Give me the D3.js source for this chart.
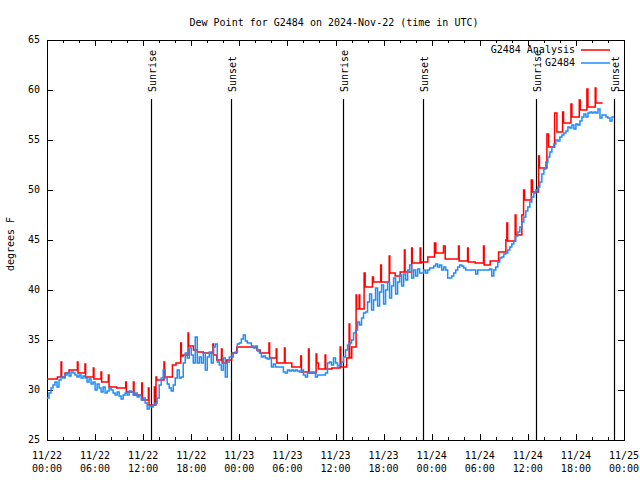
<!DOCTYPE html>
<html><head><meta charset="utf-8">
<script src="https://cdn.jsdelivr.net/npm/d3@7"></script>
<style>
body{margin:0;background:#fff}
svg{display:block}
text{font-family:"DejaVu Sans Mono",monospace;font-size:10px;fill:#000}
</style>
</head><body>
<svg id="c" width="640" height="480"></svg>
<script>
// ---------------- data ----------------
const chartTitle = "Dew Point for G2484 on 2024-Nov-22 (time in UTC)";
const yAxisLabel = "degrees F";
const yTicks = [25, 30, 35, 40, 45, 50, 55, 60, 65];
const xTickHours = [0, 6, 12, 18, 24, 30, 36, 42, 48, 54, 60, 66, 72]; // hours after 2024-11-22 00:00 UTC
const xMinorHours = [2, 4, 8, 10, 14, 16, 20, 22, 26, 28, 32, 34, 38, 40, 44, 46, 50, 52, 56, 58, 62, 64, 68, 70];
const seriesNames = ["G2484 Analysis", "G2484"];
const seriesColors = ["#ff0000", "#1e8cff"];

// Analysis (red) – step values, hours after start
const redHours = [0, 1.3, 1.75, 1.83, 2.25, 2.75, 3.79, 3.87, 4.74, 4.82, 5.78, 5.86, 6.74, 6.82, 7.66, 7.74, 8.7,
  9.82, 9.9, 10.78, 10.86, 11.82, 11.9, 12.65, 12.73, 13.4, 13.48, 13.6, 13.68, 14.6, 14.68, 15.65, 16.1,
  16.69, 16.77, 17.0, 17.6, 17.68, 18.27, 18.77, 19.5, 20.7, 20.78, 21.18, 21.77, 21.85, 22.43, 23.05, 23.68,
  26.2, 26.6, 27.7, 27.78, 28.6, 28.68, 29.63, 29.71, 30.55, 31.67, 31.75, 32.63, 32.71, 33.58, 33.66, 33.87,
  34.7, 34.78, 35.54, 36.58, 36.66, 37.4, 37.7, 37.78, 38.03, 38.57, 38.65, 38.95, 39.03, 39.57, 39.7,
  40.61, 40.74, 41.65, 41.73, 42.7, 42.78, 43.45, 44.07, 44.6, 44.68, 45.5, 45.58, 46.56, 46.64, 46.77,
  47.52, 48.35, 48.52, 49.48, 49.69, 51.35, 51.43, 52.48, 52.56, 53.43, 54.47, 54.55, 55.3, 56.35,
  57.26, 57.38, 57.48, 58.42, 58.52, 59.25, 59.47, 59.6, 60.43, 60.59, 61.34, 61.45, 62.38, 62.59,
  63.34, 63.63, 64.34, 64.46, 65.38, 65.5, 66.42, 66.54, 67.37, 67.5, 68.41, 68.5, 69.33];
const redValues = [31.1, 31.3, 32.8, 31.3, 31.7, 32.0, 32.8, 31.7, 32.6, 31.3, 32.2, 31.1, 31.8, 30.8, 31.5, 30.3, 30.2,
  30.8, 29.8, 30.8, 29.5, 30.7, 29.0, 30.2, 28.5, 30.3, 28.5, 31.3, 31.0, 32.8, 31.3, 32.5, 32.7,
  34.7, 33.4, 33.5, 35.7, 34.4, 34.0, 33.8, 33.7, 34.6, 33.5, 33.0, 34.1, 32.7, 33.0, 33.7, 34.3,
  34.0, 33.7, 34.7, 33.2, 34.1, 32.7, 34.2, 32.7, 32.3, 33.4, 31.8, 34.1, 31.7, 33.6, 32.7, 32.1,
  33.5, 32.1, 32.2, 34.3, 32.3, 33.2, 36.6, 33.2, 34.3, 39.5, 38.1, 39.5, 38.1, 41.7, 40.3,
  41.3, 40.8, 42.5, 40.8, 43.4, 41.7, 41.4, 41.8, 44.0, 41.8, 44.2, 42.7, 44.2, 42.7, 42.8,
  43.3, 44.7, 43.7, 44.4, 43.1, 44.4, 42.9, 44.2, 42.8, 42.7, 44.4, 42.5, 42.9, 43.8,
  45.0, 46.7, 44.9, 47.5, 45.5, 47.5, 50.0, 49.0, 51.0, 49.8, 53.4, 52.2, 55.6, 54.3,
  57.7, 55.8, 57.8, 56.7, 58.6, 57.3, 59.0, 58.0, 60.1, 58.3, 60.2, 58.7, 58.7];

// Observations (blue) – one reading every 15 minutes from 00:00
const blueStartHour = 0;
const blueStepHours = 0.25;
const blueValues = [
  29.2, 29.7, 30.2, 30.5, 30.8, 30.3, 31.0, 31.3, 31.2, 31.5, 31.7, 31.4, 31.8, 31.7, 31.5, 31.3, 31.5, 31.2, 31.4, 31.2,
  30.8, 31.1, 30.6, 30.8, 30.0, 30.6, 30.2, 29.8, 30.3, 29.7, 29.9, 30.2, 30.0, 29.7, 29.5, 29.8, 29.4, 29.1, 29.5, 29.7,
  29.5, 29.9, 29.8, 29.5, 29.7, 29.3, 29.5, 29.0, 29.2, 28.7, 28.1, 28.4, 28.3, 28.5, 28.7, 29.2, 30.5, 31.2, 32.0,
  31.2, 30.6, 30.2, 29.9, 30.5, 31.2, 32.0, 31.2, 31.3, 32.7, 33.7, 33.2, 34.2, 33.5, 32.7, 35.3, 32.7, 33.3, 32.7, 33.7,
  32.0, 33.3, 33.8, 32.7, 34.3, 34.6, 32.8, 32.5, 32.0, 33.2, 31.3, 32.8, 33.3, 33.3, 33.7, 33.8, 34.6, 34.7, 35.1, 35.5,
  34.9, 34.7, 34.7, 34.4, 34.2, 34.4, 33.9, 33.7, 33.3, 33.4, 33.2, 33.1, 33.2, 32.3, 32.6, 32.3, 32.3, 32.3, 32.3, 31.8,
  31.7, 32.0, 31.9,
  32.0, 31.9, 32.0, 31.9, 31.8, 32.0, 31.5, 31.3, 31.7, 31.8, 31.8, 31.8, 31.3, 31.5, 31.5, 31.5, 31.5, 31.7, 32.7, 32.8,
  32.5, 33.2, 32.7, 32.4, 32.5, 32.8, 33.3, 34.0, 34.5, 34.7, 35.0, 35.7, 36.0, 36.8, 36.5, 37.2, 37.7, 37.8, 38.8, 39.6,
  38.0, 39.0, 40.2, 38.4, 39.8, 40.5, 38.6, 40.0, 40.8, 39.2, 40.4, 41.2, 39.6, 40.8, 41.5, 40.4, 41.6, 41.0, 42.0, 42.5,
  41.2, 42.0, 41.4, 42.1, 41.7, 41.7, 42.0,
  41.7, 42.0, 42.2, 42.2, 42.4, 42.6, 42.3, 42.5, 42.0, 42.3, 42.0, 41.2, 41.2, 41.4, 41.7, 42.0, 42.3, 42.5, 42.4, 42.2,
  42.0, 42.0, 42.0, 42.0, 42.0, 41.6, 42.0, 42.0, 42.0, 42.0, 42.0, 42.0, 42.1, 41.4, 42.0, 42.3, 42.8, 43.2, 43.3, 43.6,
  43.7, 44.0, 44.3, 44.6, 44.9, 45.4, 45.8, 46.3, 46.8, 47.3, 47.9, 48.3, 48.8, 49.3, 49.7, 50.0,
  50.3, 50.8, 51.6, 52.1, 52.8, 53.3, 53.8, 54.3, 54.6, 55.0, 54.9, 55.3, 55.5, 55.7, 55.9, 56.3, 56.2, 56.5, 56.1, 56.6,
  56.5, 56.9, 57.3, 57.6, 57.3, 57.7, 57.8, 57.7, 57.8, 57.7, 58.1, 57.2, 57.5, 57.5, 57.3, 57.2, 56.9, 57.3, 57.3];

// Sunrise / sunset markers (hours after start)
const sunLabels = ["Sunrise", "Sunset", "Sunrise", "Sunset", "Sunrise", "Sunset"];
const sunHours = [12.98, 22.96, 36.97, 46.86, 60.98, 70.79];
const sunLineTop = 59.1;

// ---------------- drawing ----------------
(function () {
const startMs = Date.UTC(2024, 10, 22, 0, 0);
const toDate = h => new Date(startMs + h * 3600e3);

const pl = 47, pr = 624, pt = 40, pb = 440;
const svg = d3.select("#c");

const x = d3.scaleUtc().domain([toDate(0), toDate(72)]).range([pl, pr]);
const y = d3.scaleLinear().domain([25, 65]).range([pb, pt]);

svg.append("rect").attr("width", 640).attr("height", 480).attr("fill", "#fff");

svg.append("text").attr("x", 334).attr("y", 23).attr("text-anchor", "middle")
  .attr("dominant-baseline", "middle").text(chartTitle);

svg.append("text").attr("transform", "translate(11,244) rotate(-90)")
  .attr("text-anchor", "middle").attr("dominant-baseline", "middle").text(yAxisLabel);

const fmtDay = d3.utcFormat("%m/%d"), fmtHour = d3.utcFormat("%H:%M");
const xTickDates = xTickHours.map(toDate), xMinorDates = xMinorHours.map(toDate);

const gs = [];
gs.push(svg.append("g").attr("transform", `translate(0,${pb})`)
  .call(d3.axisTop(x).tickValues(xTickDates).tickSize(6).tickFormat("")));
gs.push(svg.append("g").attr("transform", `translate(0,${pb})`)
  .call(d3.axisTop(x).tickValues(xMinorDates).tickSize(3).tickFormat("")));
gs.push(svg.append("g").attr("transform", `translate(0,${pt})`)
  .call(d3.axisBottom(x).tickValues(xTickDates).tickSize(6).tickFormat("")));
gs.push(svg.append("g").attr("transform", `translate(0,${pt})`)
  .call(d3.axisBottom(x).tickValues(xMinorDates).tickSize(3).tickFormat("")));
gs.push(svg.append("g").attr("transform", `translate(${pl},0)`)
  .call(d3.axisRight(y).tickValues(yTicks).tickSize(6).tickFormat("")));
gs.push(svg.append("g").attr("transform", `translate(${pr},0)`)
  .call(d3.axisLeft(y).tickValues(yTicks).tickSize(6).tickFormat("")));
gs.forEach(g => {
  g.select(".domain").remove();
  g.selectAll("line").attr("stroke", "#000").attr("shape-rendering", "crispEdges");
});

const xl = svg.append("g");
xTickDates.forEach(d => {
  const t = xl.append("text").attr("x", x(d)).attr("text-anchor", "middle");
  t.append("tspan").attr("x", x(d)).attr("y", 459).text(fmtDay(d));
  t.append("tspan").attr("x", x(d)).attr("y", 472).text(fmtHour(d));
});
svg.append("g").selectAll("text").data(yTicks).join("text")
  .attr("x", 40).attr("y", d => y(d)).attr("text-anchor", "end")
  .attr("dominant-baseline", "middle").text(d => d);

svg.append("rect").attr("x", pl + 0.5).attr("y", pt + 0.5)
  .attr("width", pr - pl).attr("height", pb - pt)
  .attr("fill", "none").attr("stroke", "#000").attr("shape-rendering", "crispEdges");

sunHours.forEach((h, i) => {
  const xx = Math.round(x(toDate(h))) + 0.5;
  svg.append("line").attr("x1", xx).attr("x2", xx).attr("y1", y(sunLineTop)).attr("y2", pb)
    .attr("stroke", "#000").attr("stroke-width", 1.2);
  svg.append("text").attr("transform", `translate(${xx + 4},${y(sunLineTop) - 7}) rotate(-90)`)
    .attr("text-anchor", "start").text(sunLabels[i]);
});

const redData = redHours.map((h, i) => ({t: toDate(h), v: redValues[i]}));
const blueData = blueValues.map((v, i) => ({t: toDate(blueStartHour + i * blueStepHours), v}));
const line = d3.line().x(d => x(d.t)).y(d => y(d.v)).curve(d3.curveStepAfter);

svg.append("path").datum(redData).attr("d", line).attr("fill", "none")
  .attr("stroke", seriesColors[0]).attr("stroke-width", 1.5);
svg.append("path").datum(blueData).attr("d", line).attr("fill", "none")
  .attr("stroke", seriesColors[1]).attr("stroke-width", 1.5);

const legendRows = [50, 63];
seriesNames.forEach((n, i) => {
  svg.append("text").attr("x", 575).attr("y", legendRows[i]).attr("text-anchor", "end")
    .attr("dominant-baseline", "middle").text(n);
  svg.append("line").attr("x1", 581).attr("x2", 610).attr("y1", legendRows[i]).attr("y2", legendRows[i])
    .attr("stroke", seriesColors[i]).attr("stroke-width", 1.5);
});
})();
</script>
</body></html>
